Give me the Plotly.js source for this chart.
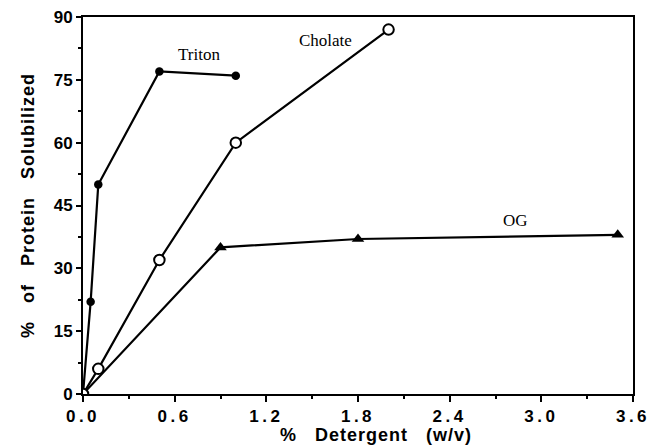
<!DOCTYPE html>
<html><head><meta charset="utf-8">
<script src="https://cdn.plot.ly/plotly-3.0.1.min.js"></script>
<style>
body{margin:0;background:#fff}
.xtick text{letter-spacing:3.5px}
.g-xtitle text,.g-ytitle text{letter-spacing:1px}
</style></head>
<body><div id="chart" style="width:661px;height:445px"></div>
<script>
const tritonX = [0, 0.05, 0.1, 0.5, 1.0];
const tritonY = [0, 22, 50, 77, 76];
const cholateX = [0, 0.1, 0.5, 1.0, 2.0];
const cholateY = [0, 6, 32, 60, 87];
const ogX = [0, 0.9, 1.8, 3.5];
const ogY = [0, 35, 37, 38];
const xTickVals = [0, 0.6, 1.2, 1.8, 2.4, 3.0, 3.6];
const xTickText = ["0.0", "0.6", "1.2", "1.8", "2.4", "3.0", "3.6"];
const yTickVals = [0, 15, 30, 45, 60, 75, 90];
const yTickText = ["0", "15", "30", "45", "60", "75", "90"];
const labels = [
  {text: "Triton", x: 0.76, y: 81},
  {text: "Cholate", x: 1.59, y: 84.3},
  {text: "OG", x: 2.83, y: 41.5}
];

const line = {color: "#000", width: 2.2};
const traces = [
  {x: ogX, y: ogY, mode: "lines+markers", line: line,
   marker: {symbol: "triangle-up", size: 11, color: "#000"}},
  {x: tritonX, y: tritonY, mode: "lines+markers", line: line,
   marker: {symbol: "circle", size: 8.5, color: "#000"}},
  {x: cholateX, y: cholateY, mode: "lines+markers", line: line,
   marker: {symbol: "circle", size: 10.5, color: "#fff", line: {color: "#000", width: 2}}}
];

const sans = "Liberation Sans, Arial, sans-serif";
const axisFont = {family: sans, size: 17, color: "#000", weight: 700};
const bold = s => "<b>" + s + "</b>";
const gap = "&nbsp;&nbsp;&nbsp;";
const layout = {
  width: 661, height: 445,
  margin: {l: 83, r: 28, t: 17, b: 51},
  paper_bgcolor: "#fff", plot_bgcolor: "#fff",
  showlegend: false,
  xaxis: {
    range: [0, 3.6], tickvals: xTickVals, ticktext: xTickText.map(bold),
    showgrid: false, zeroline: false, showline: true, mirror: true,
    linecolor: "#000", linewidth: 2,
    ticks: "outside", ticklen: 6, tickwidth: 2, tickcolor: "#000",
    minor: {dtick: 0.3, tick0: 0, ticks: "outside", ticklen: 3, tickwidth: 2, tickcolor: "#000"},
    tickfont: axisFont,
    title: {text: bold(gap + gap + "%" + gap + "Detergent" + gap + "(w/v)"), font: {family: sans, size: 18, color: "#000", weight: 700}, standoff: 0}
  },
  yaxis: {
    range: [0, 90], tickvals: yTickVals, ticktext: yTickText.map(bold),
    showgrid: false, zeroline: false, showline: true, mirror: true,
    linecolor: "#000", linewidth: 2,
    ticks: "outside", ticklen: 5, tickwidth: 2, tickcolor: "#000",
    minor: {dtick: 7.5, tick0: 0, ticks: "outside", ticklen: 3, tickwidth: 2, tickcolor: "#000"},
    tickfont: axisFont,
    title: {text: bold("%" + gap + "of" + gap + "Protein" + gap + "Solubilized"), font: {family: sans, size: 18, color: "#000", weight: 700}, standoff: 14}
  },
  annotations: labels.map(l => ({
    x: l.x, y: l.y, xref: "x", yref: "y", text: l.text, showarrow: false,
    font: {family: "Liberation Serif, Times New Roman, serif", size: 17, color: "#000"}
  }))
};
Plotly.newPlot("chart", traces, layout, {displayModeBar: false, staticPlot: true});
</script></body></html>
